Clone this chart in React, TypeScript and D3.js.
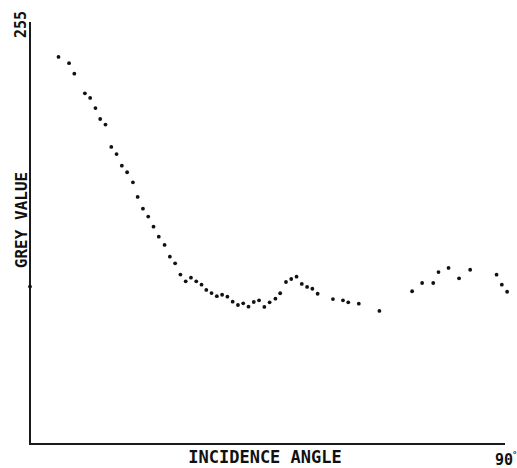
import React from "react";
import * as d3 from "d3";

const angles: number[] = [0, 5.4, 7.4, 8.4, 10.4, 11.4, 12.4, 13.3, 14.3, 15.4, 16.4, 17.4, 18.4, 19.5, 20.4, 21.4, 22.4, 23.4, 24.4, 25.5, 26.5, 27.5, 28.5, 29.5, 30.5, 31.5, 32.5, 33.4, 34.4, 35.4, 36.4, 37.4, 38.4, 39.4, 40.4, 41.4, 42.4, 43.4, 44.4, 45.4, 46.5, 47.4, 48.5, 49.5, 50.5, 51.5, 52.5, 53.5, 54.5, 57.4, 59.3, 60.3, 62.3, 66.2, 72.4, 74.3, 76.4, 77.4, 79.3, 81.3, 83.4, 88.4, 89.4, 90.4];
const greyValues: number[] = [95.1, 233.9, 230.1, 223.8, 211.9, 209.1, 203.0, 196.4, 193.0, 179.5, 175.2, 168.2, 164.2, 158.1, 149.3, 142.2, 137.4, 131.3, 125.3, 120.3, 113.2, 109.2, 102.4, 98.3, 100.5, 98.3, 96.3, 93.1, 91.2, 89.3, 90.2, 89.0, 86.0, 84.0, 85.0, 83.0, 85.8, 86.8, 82.8, 85.6, 87.8, 91.1, 97.9, 99.7, 101.1, 96.7, 94.9, 93.8, 90.8, 87.6, 86.8, 85.6, 84.8, 80.4, 92.3, 97.3, 97.3, 103.9, 106.4, 100.1, 105.3, 102.3, 96.3, 92.0];

const yMaxLabel = "255";
const xMaxLabel = "90";
const degreeSign = "°";
const xTitle = "INCIDENCE ANGLE";
const yTitle = "GREY VALUE";

export default function App() {
  const W = 517, H = 468;
  const x = d3.scaleLinear().domain([0, 90]).range([30, 505]);
  const y = d3.scaleLinear().domain([0, 255]).range([444, 22]);
  const font = "'DejaVu Sans Mono', monospace";
  return (
    <svg width={W} height={H} style={{ position: "absolute", left: 0, top: 0, background: "#fff" }}>
      <path d={`M${x(0)},${y(255)}V${y(0)}H${x(90)}`} fill="none" stroke="#1a1a1a" strokeWidth={2} />
      {angles.map((a, i) => (
        <circle key={i} cx={x(a)} cy={y(greyValues[i])} r={1.9} fill="#111" />
      ))}
      <text transform={`translate(26,24.5) rotate(-90)`} textAnchor="middle" fontFamily={font} fontWeight="bold" fontSize={15} fill="#111">{yMaxLabel}</text>
      <text transform={`translate(27,220) rotate(-90)`} textAnchor="middle" fontFamily={font} fontWeight="bold" fontSize={16} fill="#111">{yTitle}</text>
      <text x={265} y={463} textAnchor="middle" fontFamily={font} fontWeight="bold" fontSize={17} fill="#111">{xTitle}</text>
      <text x={495} y={465} fontFamily={font} fontWeight="bold" fontSize={15} fill="#111">{xMaxLabel}</text>
      <text x={512} y={458} fontFamily={font} fontWeight="bold" fontSize={9} fill="#111">{degreeSign}</text>
    </svg>
  );
}
